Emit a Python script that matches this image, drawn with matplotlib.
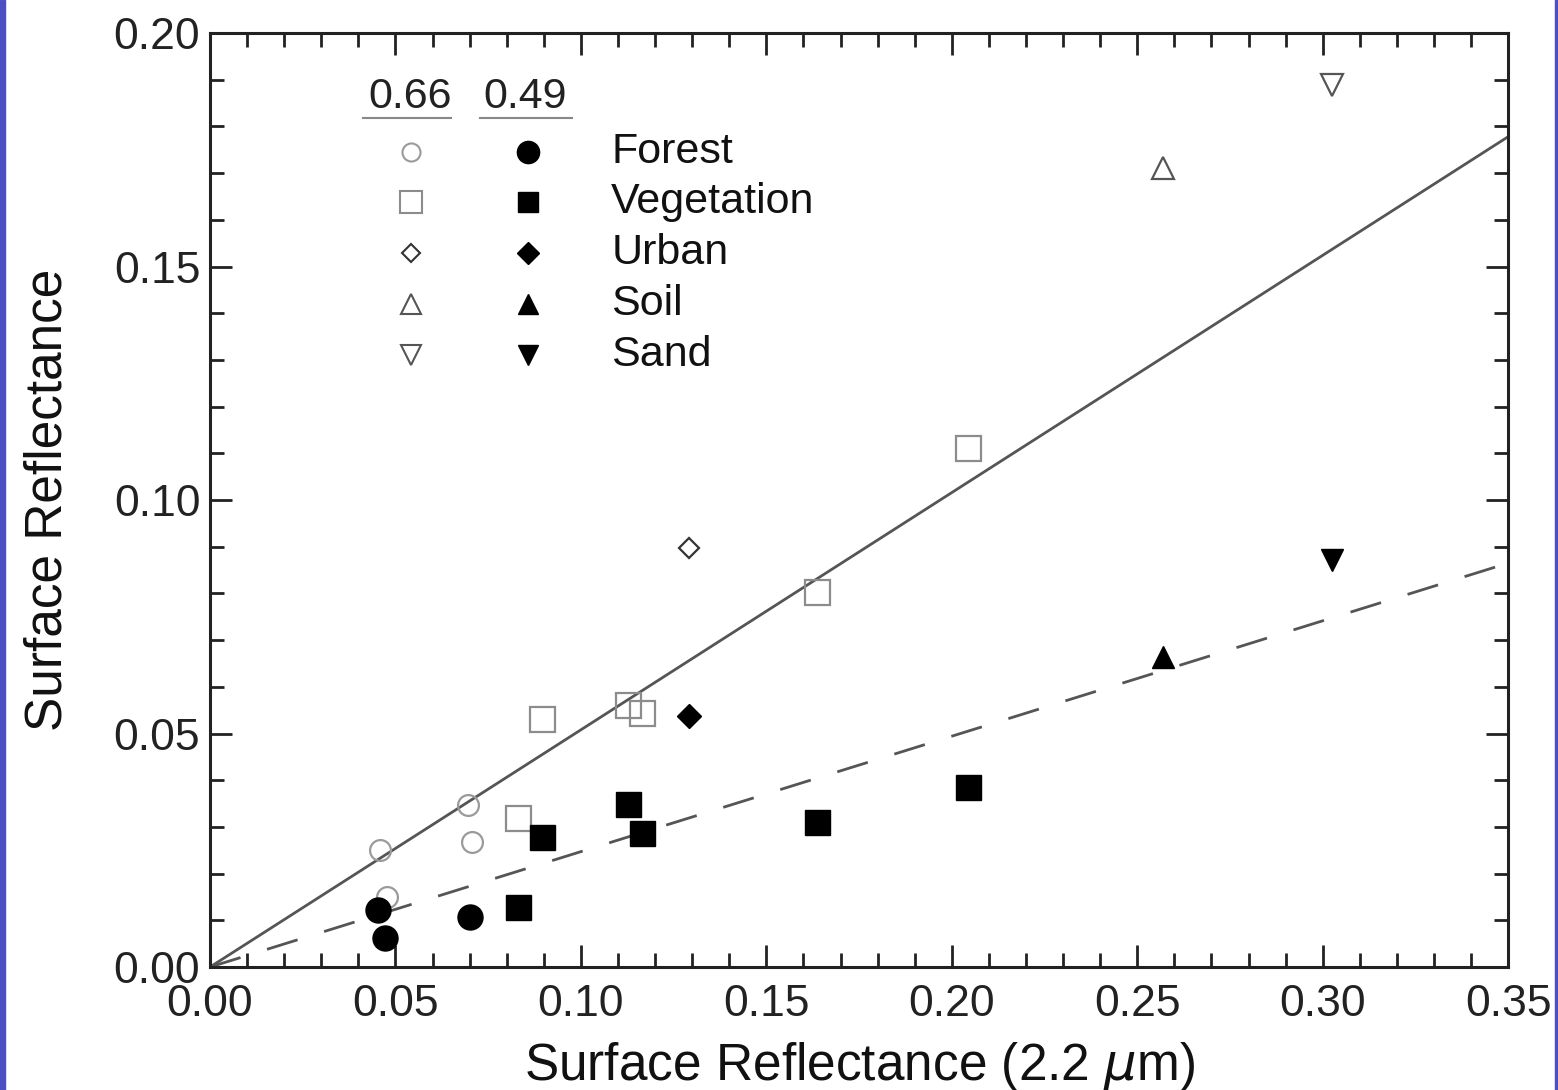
import matplotlib.pyplot as plt
import matplotlib.ticker as ticker
from matplotlib.patches import Rectangle

plt.rcParams['font.family'] = ['Liberation Sans', 'DejaVu Sans']

# reflectance at 2.2 um (x) vs 0.66 um / 0.49 um (y)
forest_x66 = [0.0458, 0.0477, 0.0696, 0.0706]
forest_y66 = [0.0251, 0.0150, 0.0347, 0.0268]
forest_x49 = [0.0453, 0.0472, 0.0701]
forest_y49 = [0.0122, 0.0062, 0.0107]

veg_x = [0.0830, 0.0895, 0.1128, 0.1165, 0.1637, 0.2044]
veg_y66 = [0.0319, 0.0531, 0.0561, 0.0544, 0.0803, 0.1111]
veg_y49 = [0.0128, 0.0278, 0.0349, 0.0287, 0.0310, 0.0385]

urban_x = [0.1291]
urban_y66 = [0.0897]
urban_y49 = [0.0537]

soil_x = [0.2569]
soil_y66 = [0.1711]
soil_y49 = [0.0664]

sand_x = [0.3025]
sand_y66 = [0.1889]
sand_y49 = [0.0872]

# fitted lines (end points)
fit_x = [0.0, 0.35]
fit_y66 = [0.0, 0.1778]
fit_y49 = [0.0, 0.0865]

labels = ['Forest', 'Vegetation', 'Urban', 'Soil', 'Sand']
headers = ['0.66', '0.49']

fig = plt.figure(figsize=(15.58, 10.9), dpi=100)
ax = fig.add_axes([0.1348, 0.1128, 0.8332, 0.8569])

ax.plot(fit_x, fit_y66, color='#555555', lw=2.0, zorder=2)
ax.plot(fit_x, fit_y49, color='#555555', lw=2.0, ls=(0, (11.5, 10)), zorder=2)

# open markers = 0.66 um, filled = 0.49 um
styles = [
    ('o', 15, 18, '#9a9a9a'),
    ('s', 18, 18, '#8c8c8c'),
    ('D', 10, 12, '#333333'),
    ('^', 16, 16, '#555555'),
    ('v', 16, 16, '#555555'),
]
series = [
    (forest_x66, forest_y66, forest_x49, forest_y49),
    (veg_x, veg_y66, veg_x, veg_y49),
    (urban_x, urban_y66, urban_x, urban_y49),
    (soil_x, soil_y66, soil_x, soil_y49),
    (sand_x, sand_y66, sand_x, sand_y49),
]
for (m, ms_open, ms_fill, ec), (x66, y66, x49, y49) in zip(styles, series):
    ax.plot(x66, y66, ls='none', marker=m, ms=ms_open, mfc='none', mec=ec, mew=1.6, zorder=3)
    ax.plot(x49, y49, ls='none', marker=m, ms=ms_fill, mfc='black', mec='black', zorder=4)

# hand-made legend
tr = ax.transAxes
ax.text(0.154, 0.931, headers[0], transform=tr, fontsize=31, color='#222222', ha='center', va='center')
ax.text(0.243, 0.931, headers[1], transform=tr, fontsize=31, color='#222222', ha='center', va='center')
ax.plot([0.118, 0.186], [0.909, 0.909], transform=tr, color='#888888', lw=1.5)
ax.plot([0.208, 0.279], [0.909, 0.909], transform=tr, color='#888888', lw=1.5)
rows = [0.8726, 0.819, 0.7645, 0.710, 0.655]
leg_ms = [(13, 16), (16, 15), (9, 11), (14, 14), (14, 14)]
for (m, _, _, ec), (mo, mf), lab, yy in zip(styles, leg_ms, labels, rows):
    ax.plot([0.155], [yy], transform=tr, ls='none', marker=m, ms=mo, mfc='none', mec=ec, mew=1.5)
    ax.plot([0.245], [yy], transform=tr, ls='none', marker=m, ms=mf, mfc='black', mec='black')
    ax.text(0.309, yy, lab, transform=tr, fontsize=31, color='#111111', va='center')

ax.set_xlim(0, 0.35)
ax.set_ylim(0, 0.20)
ax.xaxis.set_major_locator(ticker.MultipleLocator(0.05))
ax.xaxis.set_minor_locator(ticker.MultipleLocator(0.01))
ax.yaxis.set_major_locator(ticker.MultipleLocator(0.05))
ax.yaxis.set_minor_locator(ticker.MultipleLocator(0.01))
ax.xaxis.set_major_formatter(ticker.FormatStrFormatter('%.2f'))
ax.yaxis.set_major_formatter(ticker.FormatStrFormatter('%.2f'))
ax.tick_params(which='both', direction='in', top=True, right=True, colors='#222222', labelsize=32)
ax.tick_params(which='major', length=16, width=2)
ax.tick_params(which='minor', length=10, width=2)
ax.tick_params(axis='x', pad=12)
ax.tick_params(axis='y', pad=7)
for s in ax.spines.values():
    s.set_linewidth(2.2)
    s.set_color('#222222')

ax.set_xlabel('Surface Reflectance (2.2 $\\mu$m)', fontsize=37, color='#111111', labelpad=11)
ax.set_ylabel('Surface Reflectance', fontsize=37, color='#111111', labelpad=30)

# blue slide edges
fig.patches.append(Rectangle((0, 0), 5 / 1558, 1, transform=fig.transFigure, color='#4a4fc4', zorder=0))
fig.patches.append(Rectangle((1 - 3 / 1558, 0), 3 / 1558, 1, transform=fig.transFigure, color='#4a4fc4', zorder=0))

fig.savefig('out.png', dpi=100)
